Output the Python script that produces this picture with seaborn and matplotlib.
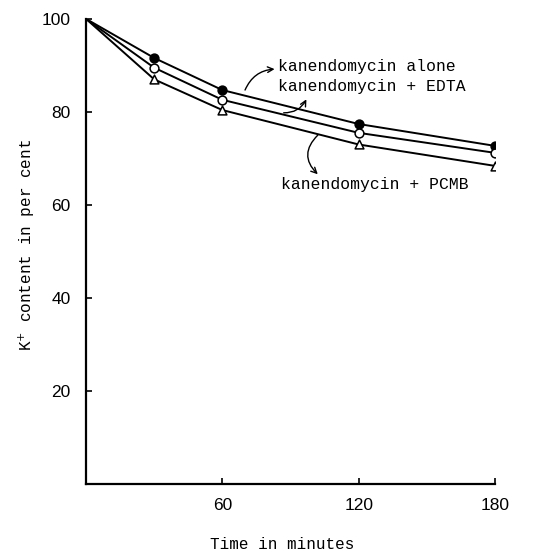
import matplotlib
matplotlib.use("Agg")
import matplotlib.pyplot as plt
import seaborn as sns
import pandas as pd

# Potassium content of cells over time under three treatments
time_min = [0, 30, 60, 120, 180]
k_alone = [100, 91.6, 84.7, 77.4, 72.7]
k_edta = [100, 89.5, 82.6, 75.5, 71.2]
k_pcmb = [100, 87.0, 80.4, 73.0, 68.4]

x_ticks = [60, 120, 180]
y_ticks = [20, 40, 60, 80, 100]

sns.set_style("ticks")
plt.rcParams["font.family"] = ["Liberation Mono", "DejaVu Sans Mono"]

fig = plt.figure(figsize=(5.34, 5.54), dpi=100)
ax = fig.add_axes([0.161, 0.126, 0.766, 0.840])

series = [
    ("alone", k_alone, dict(marker="o", facecolor="black")),
    ("EDTA", k_edta, dict(marker="o", facecolor="white")),
    ("PCMB", k_pcmb, dict(marker="^", facecolor="white")),
]

for name, vals, st in series:
    df = pd.DataFrame({"t": time_min, "k": vals})
    sns.lineplot(data=df, x="t", y="k", ax=ax, color="black", lw=1.4,
                 solid_joinstyle="round")
    sns.scatterplot(data=df.iloc[1:], x="t", y="k", ax=ax,
                    marker=st["marker"], s=40, facecolor=st["facecolor"],
                    edgecolor="black", linewidth=1.1, zorder=3)

ax.set_xlim(0, 180)
ax.set_ylim(0, 100)
ax.set_xticks(x_ticks)
ax.set_yticks(y_ticks)
ax.tick_params(direction="in", length=4, width=1.2, color="black",
               labelsize=12.5, labelcolor="black")
ax.tick_params(axis="x", pad=10)
ax.tick_params(axis="y", pad=11)
for lab in ax.get_xticklabels() + ax.get_yticklabels():
    lab.set_family(["Liberation Sans", "DejaVu Sans"])

sns.despine(ax=ax)
for sp in ("left", "bottom"):
    ax.spines[sp].set_linewidth(1.6)
    ax.spines[sp].set_color("black")

ax.set_xlabel("Time in minutes", fontsize=11.5, color="black")
ax.set_ylabel("K$^{+}$ content in per cent", fontsize=11.5, color="black")
ax.xaxis.set_label_coords(0.48, -0.113)
ax.yaxis.set_label_coords(-0.12, 0.515)

fs = 11.8
# Curve labels with pointers to their curves
ax.text(84.3, 89.7, "kanendomycin alone", fontsize=fs, va="center",
        ha="left", color="black")
ax.text(84.3, 85.4, "kanendomycin + EDTA", fontsize=fs, va="center",
        ha="left", color="black")
ax.text(86, 64.3, "kanendomycin + PCMB", fontsize=fs, va="center",
        ha="left", color="black")

arrow = dict(arrowstyle="->", color="black", lw=1, shrinkA=0, shrinkB=0)
ax.annotate("", xy=(83, 89.2), xytext=(70, 84.7),
            arrowprops=dict(arrow, connectionstyle="arc3,rad=-0.3"))
ax.annotate("", xy=(97, 82.7), xytext=(87, 79.8),
            arrowprops=dict(arrow, connectionstyle="arc3,rad=0.3"))
ax.annotate("", xy=(102, 66.6), xytext=(102, 75.0),
            arrowprops=dict(arrow, connectionstyle="arc3,rad=0.5"))

fig.savefig("out.png", dpi=100)
